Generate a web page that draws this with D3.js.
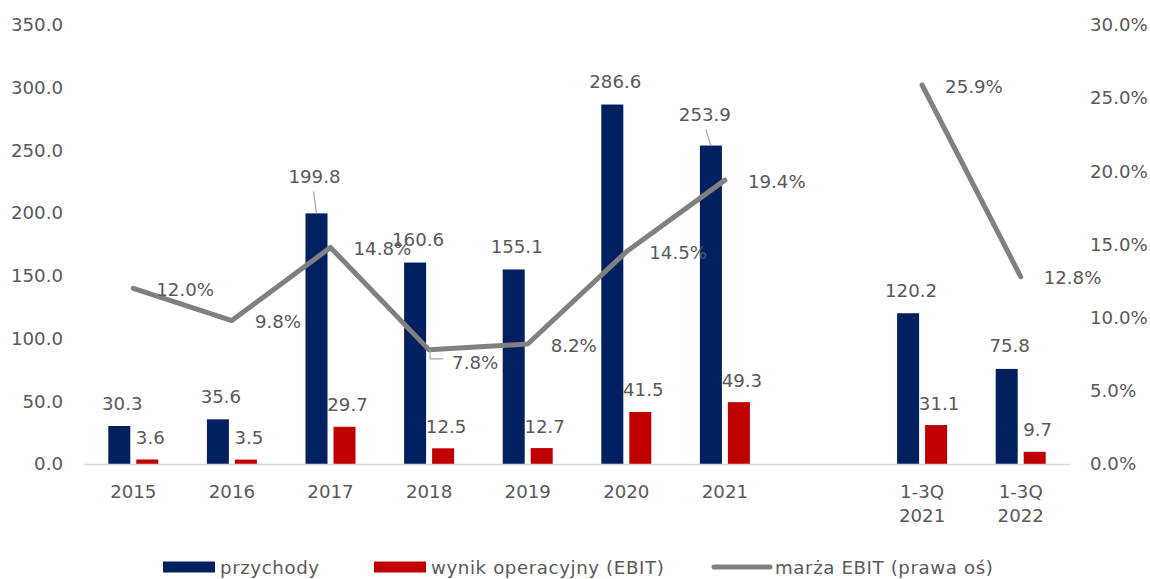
<!DOCTYPE html>
<html>
<head>
<meta charset="utf-8">
<script src="https://cdn.jsdelivr.net/npm/d3@7"></script>
<style>
  html, body { margin: 0; padding: 0; background: #ffffff; }
  svg { display: block; }
  text { font-family: "DejaVu Sans", "Noto Sans", sans-serif; fill: #595959; }
</style>
</head>
<body>
<svg id="chart" width="1150" height="579"></svg>
<script>
// ---------- data ----------
const categories = ["2015", "2016", "2017", "2018", "2019", "2020", "2021", "", "1-3Q\n2021", "1-3Q\n2022"];
const revenue    = [30.3, 35.6, 199.8, 160.6, 155.1, 286.6, 253.9, null, 120.2, 75.8];
const ebit       = [3.6, 3.5, 29.7, 12.5, 12.7, 41.5, 49.3, null, 31.1, 9.7];
const ebitMargin = [0.120, 0.098, 0.148, 0.078, 0.082, 0.145, 0.194, null, 0.259, 0.128];
const leftTicks  = [0, 50, 100, 150, 200, 250, 300, 350];
const rightTicks = [0, 0.05, 0.10, 0.15, 0.20, 0.25, 0.30];
const seriesNames = ["przychody", "wynik operacyjny (EBIT)", "marża EBIT (prawa oś)"];

// ---------- layout / style ----------
const W = 1150, H = 579;
const plot = { left: 84, right: 1070, top: 25, bottom: 464 };
const colors = { rev: "#002060", ebit: "#C00000", line: "#808080", axis: "#D9D9D9", text: "#595959", leader: "#A6A6A6" };
const fontSize = 18.2;
const barW = 22, barGap = 6;
// label nudges (layout only)
const revNudge = { 2: { dx: -2, dy: -37, leader: true }, 6: { dx: -6, dy: -31, leader: true } };
const marginNudge = { 3: { dx: 23, dy: 13, leader: true } };

const svg = d3.select("#chart");

const x = d3.scaleBand().domain(categories).range([plot.left, plot.right]).paddingInner(0).paddingOuter(0);
const yL = d3.scaleLinear().domain([0, 350]).range([plot.bottom, plot.top]);
const yR = d3.scaleLinear().domain([0, 0.30]).range([plot.bottom, plot.top]);

const cx = c => x(c) + x.bandwidth() / 2;
const fmt1 = d3.format(".1f");
const fmtPct = d3.format(".1%");

// ---------- axes ----------
const gL = svg.append("g").attr("transform", `translate(${plot.left},0)`)
  .call(d3.axisLeft(yL).tickValues(leftTicks).tickFormat(fmt1).tickSize(0).tickPadding(21));
gL.select(".domain").remove();
gL.selectAll("text").style("font-size", fontSize + "px").style("font-family", null).attr("fill", colors.text);

const gR = svg.append("g").attr("transform", `translate(${plot.right},0)`)
  .call(d3.axisRight(yR).tickValues(rightTicks).tickFormat(fmtPct).tickSize(0).tickPadding(20));
gR.select(".domain").remove();
gR.selectAll("text").style("font-size", fontSize + "px").style("font-family", null).attr("fill", colors.text);

// ---------- bars ----------
const idx = d3.range(categories.length);

svg.append("g").selectAll("rect").data(idx.filter(i => revenue[i] != null)).join("rect")
  .attr("x", i => cx(categories[i]) - barGap / 2 - barW)
  .attr("y", i => yL(revenue[i]))
  .attr("width", barW)
  .attr("height", i => yL(0) - yL(revenue[i]))
  .attr("fill", colors.rev);

svg.append("g").selectAll("rect").data(idx.filter(i => ebit[i] != null)).join("rect")
  .attr("x", i => cx(categories[i]) + barGap / 2)
  .attr("y", i => yL(ebit[i]))
  .attr("width", barW)
  .attr("height", i => yL(0) - yL(ebit[i]))
  .attr("fill", colors.ebit);

// x axis line + labels
const gX = svg.append("g").attr("transform", `translate(0,${plot.bottom})`)
  .call(d3.axisBottom(x).tickSize(0).tickPadding(0).tickFormat(""));
gX.select(".domain").attr("stroke", colors.axis).attr("stroke-width", 1.5);
gX.selectAll(".tick").each(function(c) {
  const lines = c.split("\n");
  const t = d3.select(this).append("text")
    .attr("text-anchor", "middle")
    .style("font-size", fontSize + "px")
    .attr("fill", colors.text);
  lines.forEach((ln, k) => {
    t.append("tspan").attr("x", 0).attr("y", 28 + k * 24 + 6).text(ln);
  });
});

// ---------- line ----------
const line = d3.line()
  .defined(i => ebitMargin[i] != null)
  .x(i => cx(categories[i]))
  .y(i => yR(ebitMargin[i]));

svg.append("path")
  .datum(idx)
  .attr("d", line)
  .attr("fill", "none")
  .attr("stroke", colors.line)
  .attr("stroke-width", 5)
  .attr("stroke-linejoin", "round")
  .attr("stroke-linecap", "round");

// ---------- data labels ----------
const gLab = svg.append("g").style("font-size", fontSize + "px");

idx.filter(i => revenue[i] != null).forEach(i => {
  const bx = cx(categories[i]) - barGap / 2 - barW / 2;
  const by = yL(revenue[i]);
  const n = revNudge[i] || { dx: 3, dy: -23 };
  if (n.leader) {
    gLab.append("line")
      .attr("x1", bx + n.dx * 0.5 - 2).attr("y1", by + n.dy + 15)
      .attr("x2", bx).attr("y2", by)
      .attr("stroke", colors.leader).attr("stroke-width", 1.2);
  }
  gLab.append("text").attr("x", bx + n.dx).attr("y", by + n.dy).attr("dy", "0.36em")
    .attr("text-anchor", "middle").attr("fill", colors.text).text(fmt1(revenue[i]));
});

idx.filter(i => ebit[i] != null).forEach(i => {
  const bx = cx(categories[i]) + barGap / 2 + barW / 2;
  const by = yL(ebit[i]);
  gLab.append("text").attr("x", bx + 3).attr("y", by - 22).attr("dy", "0.36em")
    .attr("text-anchor", "middle").attr("fill", colors.text).text(fmt1(ebit[i]));
});

idx.filter(i => ebitMargin[i] != null).forEach(i => {
  const px = cx(categories[i]);
  const py = yR(ebitMargin[i]);
  const n = marginNudge[i] || { dx: 23, dy: 1 };
  if (n.leader) {
    gLab.append("path")
      .attr("d", `M${px + 1},${py} L${px + 1},${py + 9} L${px + 14},${py + 9}`)
      .attr("fill", "none").attr("stroke", colors.leader).attr("stroke-width", 1.2);
  }
  gLab.append("text").attr("x", px + n.dx).attr("y", py + n.dy).attr("dy", "0.36em")
    .attr("text-anchor", "start").attr("fill", colors.text).text(fmtPct(ebitMargin[i]));
});

// ---------- legend ----------
const legY = 567;
const legend = svg.append("g").style("font-size", fontSize + "px").style("letter-spacing", "0.6px");
const legItems = [
  { name: seriesNames[0], kind: "rect", color: colors.rev, x0: 163, x1: 215, tx: 220 },
  { name: seriesNames[1], kind: "rect", color: colors.ebit, x0: 374, x1: 426, tx: 431 },
  { name: seriesNames[2], kind: "line", color: colors.line, x0: 714, x1: 770, tx: 775 }
];
legItems.forEach(it => {
  if (it.kind === "rect") {
    legend.append("rect").attr("x", it.x0).attr("y", legY - 5.5).attr("width", it.x1 - it.x0).attr("height", 11).attr("fill", it.color);
  } else {
    legend.append("line").attr("x1", it.x0).attr("x2", it.x1).attr("y1", legY).attr("y2", legY)
      .attr("stroke", it.color).attr("stroke-width", 5).attr("stroke-linecap", "round");
  }
  legend.append("text").attr("x", it.tx).attr("y", legY).attr("dy", "0.36em").attr("fill", colors.text).text(it.name);
});
</script>
</body>
</html>
